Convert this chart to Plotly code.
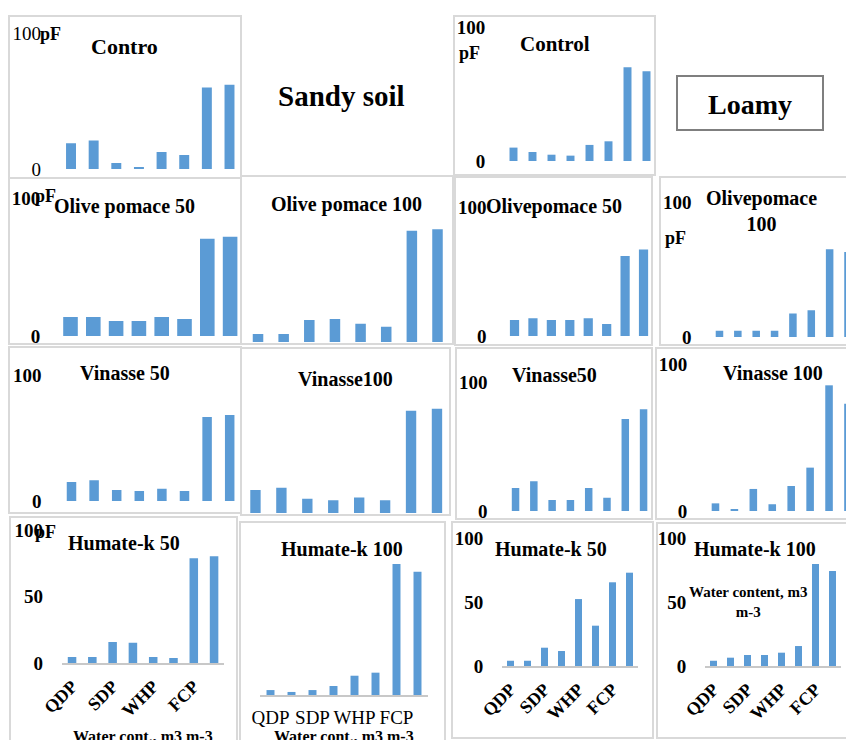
import plotly.graph_objects as go

W, H = 846, 740

# ---------------- data ----------------
water_points = ["QDP", "SDP", "WHP", "FCP"]
bar_index = [0, 1, 2, 3, 4, 5, 6, 7]

sandy_control = [19, 21, 4.4, 1.5, 12.5, 10.3, 60, 62]
sandy_olive50 = [13.8, 13.8, 10.9, 10.9, 13.8, 12.3, 70.5, 72]
sandy_olive100 = [5.8, 5.8, 16, 16.7, 13.3, 11, 80.6, 81.7]
sandy_vinasse50 = [15, 16.5, 8.7, 7.9, 9.7, 7.9, 66.7, 68.3]
sandy_vinasse100 = [17.7, 19.5, 11, 9.8, 12, 9.8, 78.7, 80.2]
sandy_humate50 = [4.5, 4.5, 15.8, 15.3, 4.5, 3.8, 78.7, 80.2]
sandy_humate100 = [3.4, 2.1, 3.4, 6.2, 13.3, 15.4, 90.3, 85]

loamy_control = [10, 6.7, 4.7, 4, 12, 14.7, 70, 67]
loamy_olive50 = [12.4, 13.7, 12.4, 12.4, 13.7, 9.3, 62, 67]
loamy_olive100 = [4.7, 4.7, 4.7, 4.7, 17.5, 19.8, 65, 63]
loamy_vinasse50 = [17.8, 23, 8.5, 8.5, 17.8, 10.3, 71.3, 78.8]
loamy_vinasse100 = [5.2, 1.2, 15, 4.6, 17, 29.5, 85.5, 73]
loamy_humate50 = [4.1, 4.1, 14.3, 11.7, 52.3, 31.5, 65.4, 72.9]
loamy_humate100 = [4.1, 6.5, 8.6, 8.6, 10.4, 15.6, 79.7, 74.2]

# ---------------- layout helpers ----------------
FONT = "Liberation Serif"
BAR = "#5B9BD5"
BORDER = "#d9d9d9"


def px(x):
    return x / W


def py(y):
    return 1 - y / H


# (values, x0 px, band px, baseline px, y100 px, bar width frac, ytick style, yticks, xtick style)
panels = [
    (sandy_control, 59.7, 22.64, 169, 33, 0.44, "regular", [0, 100], None),
    (loamy_control, 504, 19.0, 161, 27, 0.42, "bold", [0, 100], None),
    (sandy_olive50, 59.1, 22.8, 336, 198, 0.64, "bold", [0, 100], None),
    (sandy_olive100, 245.2, 25.64, 342, 204, 0.41, None, [], None),
    (loamy_olive50, 505.3, 18.43, 336, 207, 0.5, "bold", [0, 100], None),
    (loamy_olive100, 710.3, 18.36, 337, 202, 0.41, "bold", [0, 100], None),
    (sandy_vinasse50, 60.2, 22.6, 501, 375, 0.42, "bold", [0, 100], None),
    (sandy_vinasse100, 242.5, 25.93, 513, 383, 0.40, None, [], None),
    (loamy_vinasse50, 506.4, 18.29, 511, 382, 0.41, "bold", [0, 100], None),
    (loamy_vinasse100, 706, 18.93, 511, 364, 0.40, "bold", [0, 100], None),
    (sandy_humate50, 61.9, 20.29, 663, 530, 0.42, "bold", [0, 50, 100], "rot"),
    (sandy_humate100, 260, 21.0, 695, 550, 0.38, None, [], "flat"),
    (loamy_humate50, 502, 17.0, 666, 538, 0.41, "bold", [0, 50, 100], "rot"),
    (loamy_humate100, 705, 17.0, 666, 538, 0.41, "bold", [0, 50, 100], "rot"),
]

fig = go.Figure()
layout = {}

for i, (vals, x0, band, ybase, y100, bw, ystyle, yticks, xstyle) in enumerate(panels, start=1):
    xa = "x" if i == 1 else f"x{i}"
    ya = "y" if i == 1 else f"y{i}"
    xk = "xaxis" if i == 1 else f"xaxis{i}"
    yk = "yaxis" if i == 1 else f"yaxis{i}"
    x1 = x0 + 8 * band
    r_end = 7.5
    if x1 > W:
        x1 = W
        r_end = (W - x0) / band - 0.5
    fig.add_trace(go.Bar(x=bar_index, y=vals, width=bw, marker=dict(color=BAR, line=dict(width=0)),
                         xaxis=xa, yaxis=ya, showlegend=False, hoverinfo="y"))
    xaxis = dict(domain=[px(x0), px(x1)], range=[-0.5, r_end], anchor=ya, automargin=False,
                 showgrid=False, zeroline=False, fixedrange=True)
    if xstyle is None:
        xaxis.update(showticklabels=False, ticks="")
    else:
        xaxis.update(tickmode="array", tickvals=[0, 2, 4, 6], ticktext=water_points,
                     showline=True, linecolor="#c8c8c8", linewidth=1.5,
                     ticks="outside", tickcolor="rgba(0,0,0,0)")
        if xstyle == "rot":
            xaxis.update(tickangle=-45, ticklen=4,
                         tickfont=dict(family=FONT, size=18, color="black", weight="bold"))
        else:
            xaxis.update(tickangle=0, ticklen=4,
                         tickfont=dict(family=FONT, size=19, color="black"))
    yaxis = dict(domain=[py(ybase), py(y100)], range=[0, 100], anchor=xa, automargin=False,
                 showgrid=False, zeroline=False, fixedrange=True)
    if ystyle is None:
        yaxis.update(showticklabels=False, ticks="")
    else:
        yaxis.update(tickmode="array", tickvals=yticks, ticks="outside", ticklen=14,
                     tickcolor="rgba(0,0,0,0)",
                     tickfont=dict(family=FONT, size=19, color="black",
                                   weight="bold" if ystyle == "bold" else "normal"))
    layout[xk] = xaxis
    layout[yk] = yaxis

# ---------------- frames ----------------
frames = [
    (9, 16, 241, 178), (241, 176, 453, 344), (9, 178, 241, 344),
    (454, 16, 655, 175), (455, 177, 652, 345), (660, 177, 860, 345),
    (9, 347, 241, 513), (241, 348, 450, 515), (456, 348, 652, 519), (656, 348, 860, 519),
    (10, 517, 237, 760), (240, 522, 445, 760), (452, 522, 653, 738), (657, 523, 860, 738),
]
shapes = []
for (a, b, c, d) in frames:
    shapes.append(dict(type="rect", xref="paper", yref="paper", x0=px(a), x1=px(c), y0=py(d), y1=py(b),
                       line=dict(color=BORDER, width=2), fillcolor="rgba(0,0,0,0)", layer="above"))
# Loamy box
shapes.append(dict(type="rect", xref="paper", yref="paper", x0=px(677), x1=px(823), y0=py(130), y1=py(76),
                   line=dict(color="#7f7f7f", width=2), fillcolor="white"))

# ---------------- text ----------------
titles = [
    ("Contro", 125, 46, 22), ("Control", 555, 44, 21),
    ("Olive pomace 50", 125, 207, 20), ("Olive pomace 100", 346, 205, 20),
    ("Olivepomace 50", 554, 207, 20), ("Olivepomace<br>100", 761, 211, 20),
    ("Vinasse 50", 125, 373, 20), ("Vinasse100", 345, 379, 20),
    ("Vinasse50", 554, 375, 20), ("Vinasse 100", 773, 373, 20),
    ("Humate-k 50", 124, 543, 20), ("Humate-k 100", 342, 549, 20),
    ("Humate-k 50", 551, 549, 20), ("Humate-k 100", 755, 549, 20),
    ("pF", 50, 34, 18), ("pF", 469, 53, 18), ("pF", 45, 196, 18),
    ("pF", 675, 238, 18), ("pF", 45, 532, 18),
    ("Sandy soil", 341, 96, 29), ("Loamy", 750, 104, 28),
    ("Water cont., m3 m-3", 143, 736, 16), ("Water cont., m3 m-3", 344, 736, 16),
    ("Water content, m3<br>m-3", 748, 602, 15),
]
annotations = []
for (t, x, y, s) in titles:
    annotations.append(dict(text=t, xref="paper", yref="paper", x=px(x), y=py(y),
                            xanchor="center", yanchor="middle", showarrow=False,
                            font=dict(family=FONT, size=s, color="black", weight="bold"),
                            align="center"))

fig.update_layout(
    width=W, height=H, margin=dict(l=0, r=0, t=0, b=0, autoexpand=False),
    paper_bgcolor="white", plot_bgcolor="rgba(0,0,0,0)",
    shapes=shapes, annotations=annotations, showlegend=False,
    **layout,
)

fig.write_html("out.html", config={"displayModeBar": False},
               post_script="document.body.style.margin='0';document.body.style.padding='0';")
